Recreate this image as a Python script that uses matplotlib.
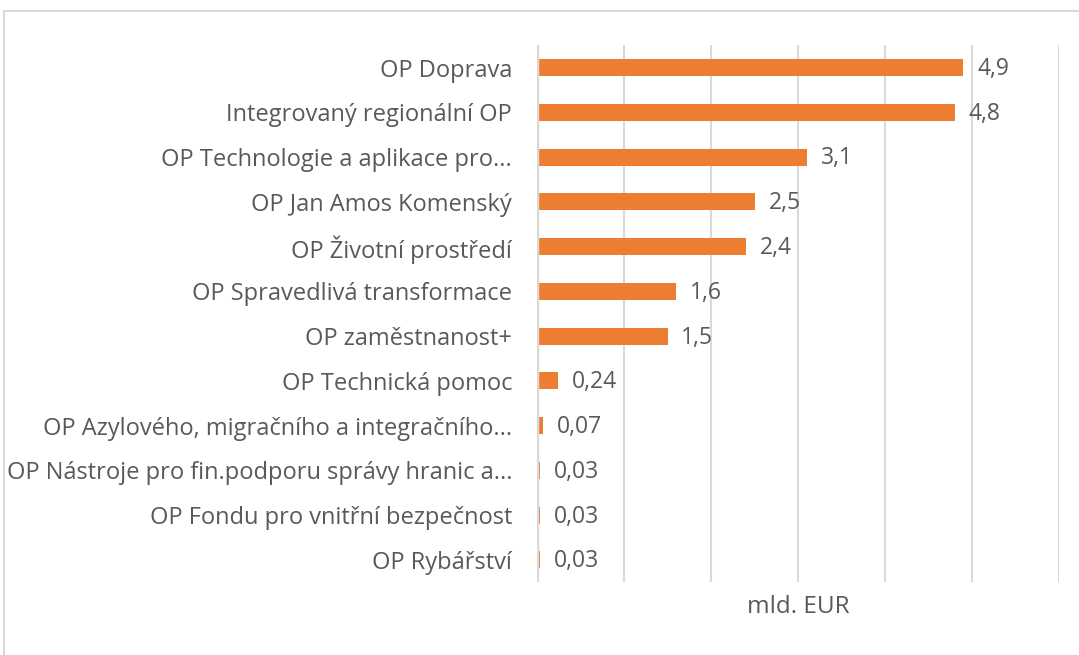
import matplotlib.pyplot as plt
from matplotlib.patches import Rectangle

# data
categories = [
    'OP Doprava',
    'Integrovaný regionální OP',
    'OP Technologie a aplikace pro...',
    'OP Jan Amos Komenský',
    'OP Životní prostředí',
    'OP Spravedlivá transformace',
    'OP zaměstnanost+',
    'OP Technická pomoc',
    'OP Azylového, migračního a integračního...',
    'OP Nástroje pro fin.podporu správy hranic a...',
    'OP Fondu pro vnitřní bezpečnost',
    'OP Rybářství',
]
values = [4.9, 4.8, 3.1, 2.5, 2.4, 1.6, 1.5, 0.24, 0.07, 0.03, 0.03, 0.03]
value_labels = ['4,9', '4,8', '3,1', '2,5', '2,4', '1,6', '1,5', '0,24', '0,07', '0,03', '0,03', '0,03']

plt.rcParams['font.family'] = ['Open Sans', 'DejaVu Sans']
text_color = '#595959'
grid_color = '#D9D9D9'

fig = plt.figure(figsize=(10.79, 6.55), dpi=100)
ax = fig.add_axes([0.4977, 0.111, 0.4838, 0.820])

y = list(range(len(categories)))
ax.barh(y, values, height=0.38, color='#ED7D31', zorder=3)
ax.axvline(0, color=grid_color, linewidth=2.5, zorder=4)

for yi, v, lab in zip(y, values, value_labels):
    ax.annotate(lab, (v, yi), xytext=(10, -1), textcoords='offset points',
                va='center', ha='left', fontsize=16.5, color=text_color)

ax.set_xlim(0, 6)
ax.set_ylim(len(categories) - 0.5, -0.5)
ax.set_xticks(range(0, 7))
ax.set_xticklabels([])
ax.tick_params(axis='x', length=0)
ax.set_yticks(y)
ax.set_yticklabels(categories, fontsize=17, color=text_color)
ax.tick_params(axis='y', length=0, pad=18)
ax.grid(axis='x', color=grid_color, linewidth=1.5, zorder=0)
for s in ax.spines.values():
    s.set_visible(False)
ax.set_xlabel('mld. EUR', fontsize=17.5, color=text_color, labelpad=6)

# outer frame
fig.patches.append(Rectangle((0.004, -0.05), 1.1, 1.033, transform=fig.transFigure,
                             fill=False, edgecolor=grid_color, linewidth=1.5))

fig.savefig('out.png', dpi=100)
